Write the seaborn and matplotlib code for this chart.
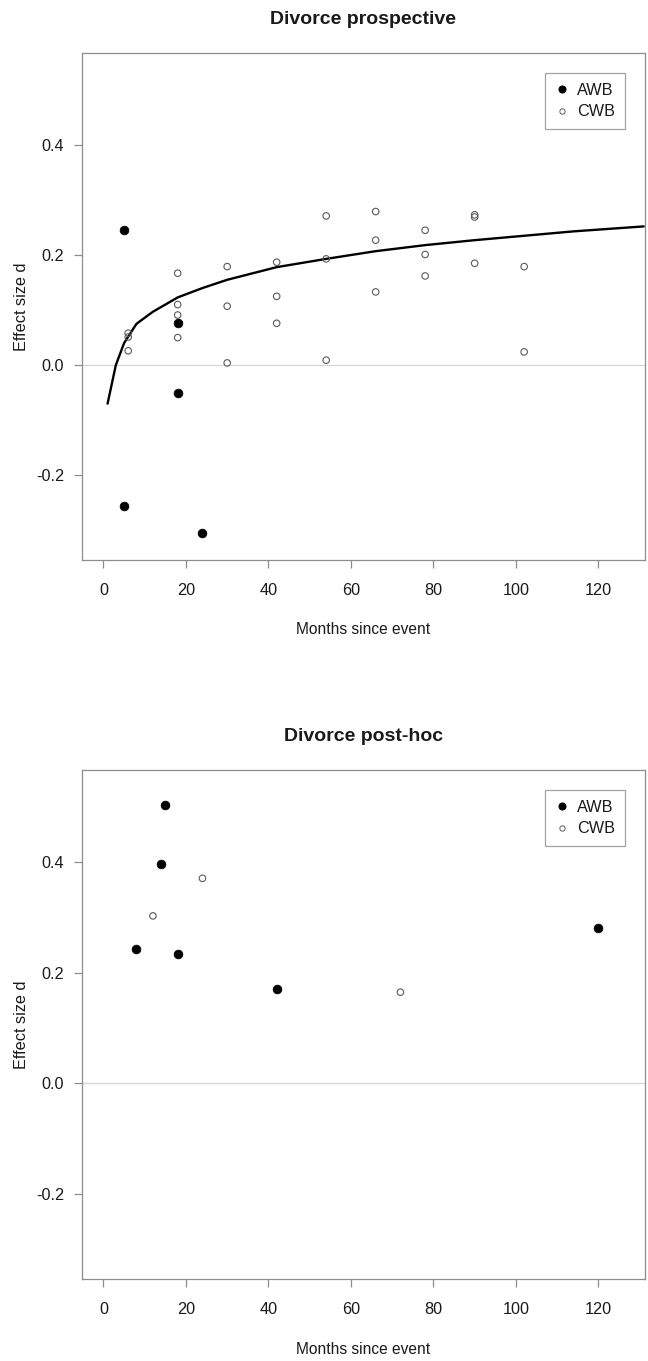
import matplotlib
matplotlib.use("Agg")
import matplotlib.pyplot as plt
import seaborn as sns
import pandas as pd
from matplotlib.lines import Line2D

# ---- Divorce prospective ----
pro_awb_months = [5, 5, 18, 18, 24]
pro_awb_d = [0.246, -0.256, 0.076, -0.050, -0.305]

pro_cwb_months = [6, 6, 6, 18, 18, 18, 18, 30, 30, 30, 42, 42, 42,
                  54, 54, 54, 66, 66, 66, 78, 78, 78, 90, 90, 90, 102, 102]
pro_cwb_d = [0.058, 0.051, 0.026, 0.167, 0.110, 0.091, 0.050, 0.179, 0.107, 0.004,
             0.187, 0.125, 0.076, 0.271, 0.193, 0.009, 0.279, 0.227, 0.133,
             0.245, 0.201, 0.162, 0.273, 0.269, 0.185, 0.179, 0.024]

# fitted trend over time
trend_months = [1, 3, 5, 8, 12, 18, 24, 30, 42, 54, 66, 78, 90, 102, 114, 131]
trend_d = [-0.070, 0.000, 0.040, 0.075, 0.097, 0.123, 0.140, 0.155, 0.178, 0.193,
           0.207, 0.218, 0.227, 0.235, 0.243, 0.252]

# ---- Divorce post-hoc ----
post_awb_months = [15, 14, 8, 18, 42, 120]
post_awb_d = [0.504, 0.397, 0.243, 0.234, 0.171, 0.281]
post_cwb_months = [24, 12, 72]
post_cwb_d = [0.371, 0.303, 0.165]

x_ticks = [0, 20, 40, 60, 80, 100, 120]
y_ticks = [-0.2, 0.0, 0.2, 0.4]
y_tick_labels = ["-0.2", "0.0", "0.2", "0.4"]
group_labels = ["AWB", "CWB"]

sns.set_style("white")
plt.rcParams["font.family"] = ["Liberation Sans", "DejaVu Sans"]

W, H = 648, 1361
DPI = 100
fig = plt.figure(figsize=(W / DPI, H / DPI), dpi=DPI)

AX_GRAY = "#8c8c8c"
OPEN_GRAY = "#5a5a5a"
TXT = "#1a1a1a"


def px_axes(left, top, right, bottom):
    return fig.add_axes([left / W, 1 - bottom / H, (right - left) / W, (bottom - top) / H])


def style_panel(ax, title):
    ax.set_xlim(-5.2, 131.3)
    ax.set_ylim(-0.354, 0.567)
    ax.set_xticks(x_ticks)
    ax.set_xticklabels([str(v) for v in x_ticks])
    ax.set_yticks(y_ticks)
    ax.set_yticklabels(y_tick_labels)
    ax.axhline(0, color="#d6d6d6", lw=0.9, zorder=0)
    for sp in ax.spines.values():
        sp.set_visible(True)
        sp.set_color(AX_GRAY)
        sp.set_linewidth(0.9)
    ax.tick_params(axis="both", direction="out", length=6, width=0.9,
                   color=AX_GRAY, labelsize=11.7, labelcolor=TXT,
                   bottom=True, left=True)
    ax.tick_params(axis="x", pad=10.5)
    ax.tick_params(axis="y", pad=7)
    ax.set_xlabel("Months since event", fontsize=11.2, color=TXT)
    ax.set_ylabel("Effect size d", fontsize=11.7, color=TXT)
    ax.xaxis.set_label_coords(0.5, -0.123)
    ax.yaxis.set_label_coords(-0.095, 0.5)
    ax.set_title(title, fontsize=14, fontweight="bold", color=TXT, pad=21)

    handles = [
        Line2D([], [], ls="none", marker="o", ms=4.8, mfc="black", mec="black"),
        Line2D([], [], ls="none", marker="o", ms=3.8, mfc="none", mec=OPEN_GRAY, mew=0.7),
    ]
    leg = ax.legend(handles, group_labels, loc="upper right",
                    bbox_to_anchor=(1 - 20 / 563, 1 - 20 / 507),
                    fontsize=11.7, frameon=True, fancybox=False,
                    borderpad=0.6, handlelength=0.9, handletextpad=0.5,
                    labelspacing=0.4, borderaxespad=0)
    leg.get_frame().set_edgecolor(AX_GRAY)
    leg.get_frame().set_linewidth(0.9)
    for t in leg.get_texts():
        t.set_color(TXT)


def draw_points(ax, awb_x, awb_y, cwb_x, cwb_y):
    sns.scatterplot(x=cwb_x, y=cwb_y, ax=ax, marker="o", s=22,
                    facecolor="none", edgecolor=OPEN_GRAY, linewidth=0.8, zorder=3)
    sns.scatterplot(x=awb_x, y=awb_y, ax=ax, marker="o", s=40,
                    color="black", edgecolor="black", linewidth=0.5, zorder=4)


# top panel
ax1 = px_axes(82, 53, 645, 560)
sns.lineplot(x=trend_months, y=trend_d, ax=ax1, color="black", lw=1.7,
             sort=False, estimator=None, zorder=2)
draw_points(ax1, pro_awb_months, pro_awb_d, pro_cwb_months, pro_cwb_d)
style_panel(ax1, "Divorce prospective")

# bottom panel
ax2 = px_axes(82, 770, 645, 1279)
draw_points(ax2, post_awb_months, post_awb_d, post_cwb_months, post_cwb_d)
style_panel(ax2, "Divorce post-hoc")

fig.savefig("out.png", dpi=DPI)
